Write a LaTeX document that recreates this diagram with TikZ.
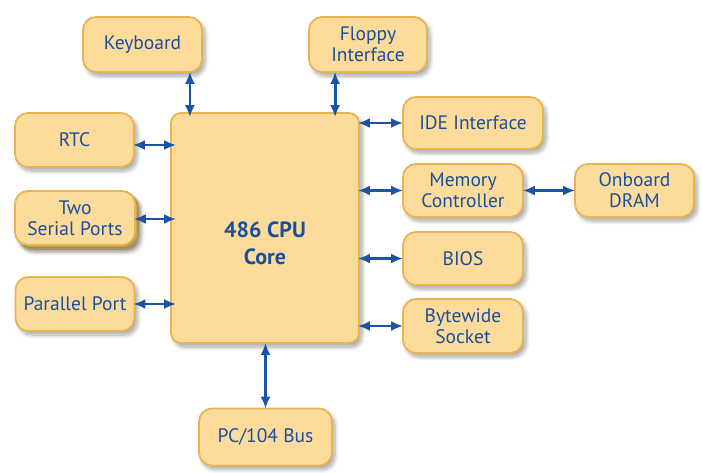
\documentclass[tikz,border=0pt]{standalone}
\usepackage{fontspec}
\setmainfont{PT Sans}
\usetikzlibrary{arrows.meta,shadows.blur}
\definecolor{boxfill}{HTML}{FDDC9B}
\definecolor{boxedge}{HTML}{E6B552}
\definecolor{txtblue}{HTML}{1A4F9C}
\definecolor{arrblue}{HTML}{1B54A4}
\begin{document}
\begin{tikzpicture}[x=1pt,y=-1pt,
  blk/.style={draw=boxedge, fill=boxfill, line width=1.8pt, rounded corners=13pt,
    inner sep=0pt, align=center, text=txtblue,
    font=\fontsize{19.5}{21}\selectfont,
    blur shadow={shadow xshift=3pt, shadow yshift=-4pt, shadow blur steps=8, shadow blur radius=4pt, shadow opacity=35}},
  arr/.style={draw=arrblue, line width=2.8pt, {Latex[length=12pt,width=10pt]}-{Latex[length=12pt,width=10pt]}}
]
\useasboundingbox (0,0) rectangle (702,472);
% CPU
\node[blk, minimum width=188pt, minimum height=230pt, rounded corners=10pt] (cpu) at (265,228) {};
\node[text=txtblue, font=\fontsize{22}{27}\selectfont\bfseries, align=center] (cputext) at (265,243) {486 CPU\\Core};
% left column
\node[blk, minimum width=119pt, minimum height=55pt] (kbd) at (142.5,44.5) {Keyboard};
\node[blk, minimum width=118pt, minimum height=55pt] (fdd) at (368,44.5) {Floppy\\Interface};
\node[blk, minimum width=119pt, minimum height=54pt] (rtc) at (74.5,140) {RTC};
\node[blk, minimum width=120pt, minimum height=54pt] (ser2) at (78,221) {};
\node[blk, minimum width=120pt, minimum height=54pt] (ser) at (75,218) {Two\\Serial Ports};
\node[blk, minimum width=119pt, minimum height=54pt] (par) at (75,304) {Parallel Port};
% right column
\node[blk, minimum width=140pt, minimum height=52pt] (ide) at (473,123) {IDE Interface};
\node[blk, minimum width=120pt, minimum height=53pt] (mem) at (463,190.5) {Memory\\Controller};
\node[blk, minimum width=119pt, minimum height=53pt] (dram) at (634.5,190.5) {Onboard\\DRAM};
\node[blk, minimum width=120pt, minimum height=53pt] (bios) at (463,258.5) {BIOS};
\node[blk, minimum width=120pt, minimum height=54pt] (byte) at (463,326) {Bytewide\\Socket};
% bottom
\node[blk, minimum width=133pt, minimum height=57pt] (bus) at (265.5,437) {PC/104 Bus};
% arrows
\draw[arr, shorten <=-1pt, shorten >=-5pt] ([xshift=-13pt]kbd.south east) -- ([xshift=-13pt]kbd.south east |- cpu.north);
\draw[arr, shorten <=-1pt, shorten >=-5pt] ([xshift=27pt]fdd.south west) -- ([xshift=27pt]fdd.south west |- cpu.north);
\draw[arr, shorten <=-2pt, shorten >=-6pt] ([yshift=-5pt]rtc.east) -- ([yshift=-5pt]rtc.east -| cpu.west);
\draw[arr, shorten <=-2pt, shorten >=-6pt] ([yshift=-1pt]ser.east) -- ([yshift=-1pt]ser.east -| cpu.west);
\draw[arr, shorten <=-2pt, shorten >=-6pt] (par.east) -- (par.east -| cpu.west);
\draw[arr, shorten <=-2pt, shorten >=-1pt] (ide.west -| cpu.east) -- (ide.west);
\draw[arr, shorten <=-2pt, shorten >=-1pt] (mem.west -| cpu.east) -- (mem.west);
\draw[arr, shorten <=-1pt, shorten >=-1pt] (mem.east) -- (dram.west);
\draw[arr, shorten <=-2pt, shorten >=-1pt] (bios.west -| cpu.east) -- (bios.west);
\draw[arr, shorten <=-2pt, shorten >=-1pt] (byte.west -| cpu.east) -- (byte.west);
\draw[arr, shorten <=-1pt, shorten >=-1pt] (cpu.south -| bus.north) -- (bus.north);
\end{tikzpicture}
\end{document}
